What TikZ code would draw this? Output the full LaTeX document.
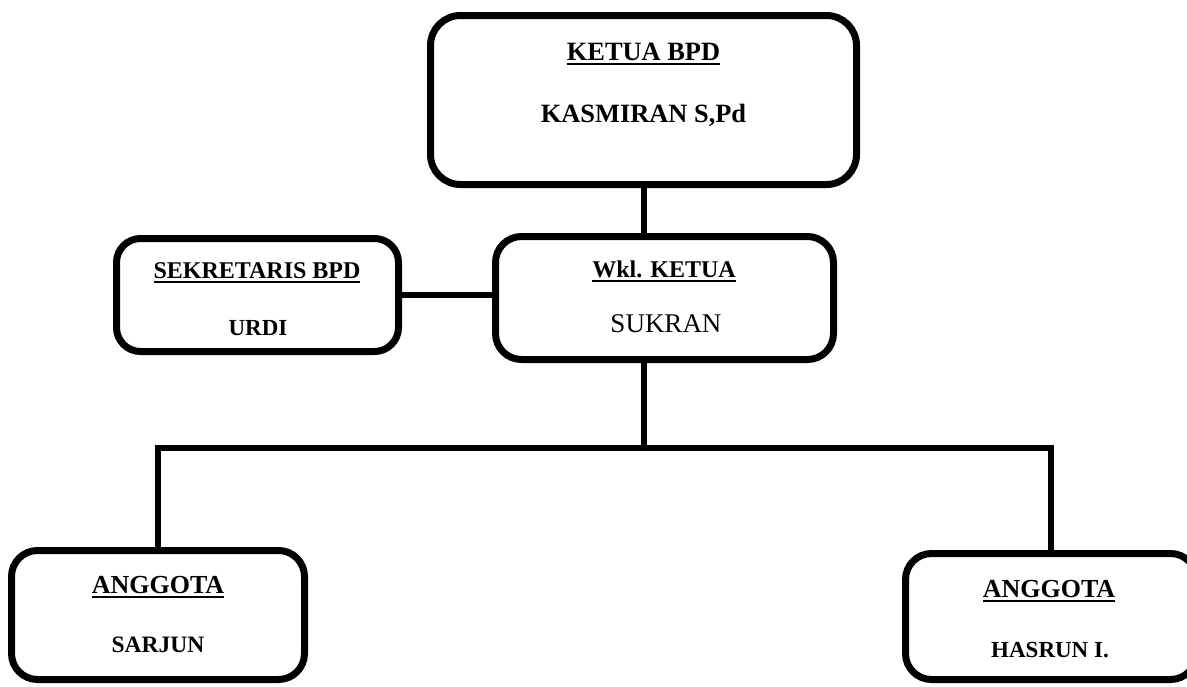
\documentclass[tikz,border=0pt]{standalone}
\usepackage{fontspec}
\setmainfont{Liberation Serif}
\newcommand\myul[1]{\setbox0=\hbox{#1}\rlap{\rule[-5pt]{\wd0}{2.5pt}}\box0}
\begin{document}
\begin{tikzpicture}[x=1pt,y=-1pt,
  boxst/.style={draw, line width=7pt, rounded corners=26pt, inner sep=0pt},
  conn/.style={line width=6pt},
  txt/.style={anchor=base, inner sep=0pt, outer sep=0pt},
  bf/.style={font=\fontsize{#1}{#1}\selectfont\bfseries},
  rm/.style={font=\fontsize{#1}{#1}\selectfont}]
\useasboundingbox (0,0) rectangle (1187,686);
% boxes
\node[boxst, rounded corners=30pt, minimum width=426pt, minimum height=169pt] (ketua) at (643.5,100) {};
\node[boxst, minimum width=338pt, minimum height=123pt] (wkl) at (664.5,298) {};
\node[boxst, rounded corners=24pt, minimum width=282pt, minimum height=113pt] (sek) at (257.5,295) {};
\node[boxst, minimum width=293pt, minimum height=129pt] (a1) at (158,615) {};
\node[boxst, minimum width=291pt, minimum height=126pt] (a2) at (1051,616.5) {};
% texts
\node[txt, bf=26.4] (t1) at (643.5,60) {\myul{KETUA BPD}};
\node[txt, bf=26.4] (t2) at (643.5,122) {KASMIRAN S,Pd};
\node[txt, bf=24] (t3) at (257,278) {\myul{SEKRETARIS BPD}};
\node[txt, bf=23] (t4) at (258,335) {URDI};
\node[txt, bf=24] (t5) at (664,277) {\myul{Wkl. KETUA}};
\node[txt, rm=27] (t6) at (666,332) {SUKRAN};
\node[txt, bf=26] (t7) at (158,593) {\myul{ANGGOTA}};
\node[txt, bf=23.5] (t8) at (158,652) {SARJUN};
\node[txt, bf=26] (t9) at (1049,597) {\myul{ANGGOTA}};
\node[txt, bf=23] (t10) at (1050,657) {HASRUN I.};
% connectors
\coordinate (j) at (643.5,448);
\draw[conn] (ketua.south) -- (ketua.south |- wkl.north);
\draw[conn] (sek.east) -- (wkl.west |- sek.east);
\draw[conn] (wkl.south -| j) -- (j);
\draw[conn] (a1.north) -- (a1.north |- j) -- (a2.north |- j) -- (a2.north);
\end{tikzpicture}
\end{document}
